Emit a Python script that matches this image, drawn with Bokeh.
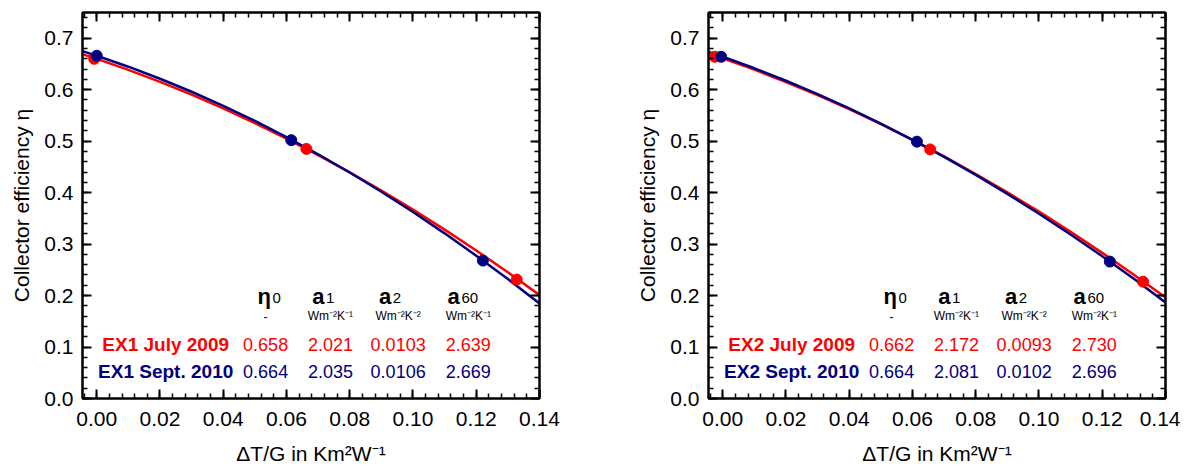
from bokeh.plotting import figure
from bokeh.models import Range1d, LinearAxis, SingleIntervalTicker, NumeralTickFormatter, CustomJSTickFormatter
from bokeh.layouts import row
from bokeh.core.properties import value
from bokeh.embed import file_html
from bokeh.resources import INLINE

FONT = "Liberation Sans"
RED = "#FF0000"
BLUE = "#000080"

# ---- data ----
curve_x = [-0.005, 0.0, 0.01, 0.02, 0.03, 0.04, 0.05, 0.06, 0.07, 0.08, 0.09, 0.10, 0.11, 0.12, 0.13, 0.14]

ex1_july_curve = [0.6701, 0.660, 0.6385, 0.6152, 0.5903, 0.5636, 0.5351, 0.5049, 0.4730, 0.4394, 0.4040, 0.3669, 0.3281, 0.2875, 0.2452, 0.2011]
ex1_sept_curve = [0.6759, 0.666, 0.6447, 0.6213, 0.5960, 0.5686, 0.5393, 0.5079, 0.4745, 0.4391, 0.4017, 0.3623, 0.3209, 0.2775, 0.2320, 0.1845]
ex2_july_curve = [0.6714, 0.661, 0.6389, 0.6150, 0.5895, 0.5622, 0.5332, 0.5026, 0.4703, 0.4362, 0.4005, 0.3630, 0.3239, 0.2830, 0.2405, 0.1962]
ex2_sept_curve = [0.6745, 0.664, 0.6416, 0.6174, 0.5914, 0.5636, 0.5340, 0.5026, 0.4694, 0.4344, 0.3976, 0.3590, 0.3186, 0.2765, 0.2326, 0.1867]

ex1_july_pts_x = [-0.0008, 0.0663, 0.1328]
ex1_july_pts_y = [0.660, 0.485, 0.231]
ex1_sept_pts_x = [0.0, 0.0615, 0.1221]
ex1_sept_pts_y = [0.666, 0.502, 0.268]
ex2_july_pts_x = [-0.0025, 0.0656, 0.1329]
ex2_july_pts_y = [0.664, 0.484, 0.227]
ex2_sept_pts_x = [-0.0005, 0.0614, 0.1224]
ex2_sept_pts_y = [0.664, 0.499, 0.266]

header_main = ["η", "a", "a", "a"]
header_sub = ["0", "1", "2", "60"]
header_units = ["-", "Wm⁻²K⁻¹", "Wm⁻²K⁻²", "Wm⁻²K⁻¹"]

ex1_names = ["EX1 July 2009", "EX1 Sept. 2010"]
ex1_july_vals = ["0.658", "2.021", "0.0103", "2.639"]
ex1_sept_vals = ["0.664", "2.035", "0.0106", "2.669"]
ex2_names = ["EX2 July 2009", "EX2 Sept. 2010"]
ex2_july_vals = ["0.662", "2.172", "0.0093", "2.730"]
ex2_sept_vals = ["0.664", "2.081", "0.0102", "2.696"]

# ---- layout constants (table placement in data units) ----
COL_X = [0.0534, 0.0739, 0.0953, 0.1175]
SPLIT_X = [0.0553, 0.0722, 0.0933, 0.1150]
NAME_X = 0.0218
Y_HEAD = 0.198
Y_UNIT = 0.160
Y_ROW = [0.104, 0.0515]

BLANK = CustomJSTickFormatter(code="return '';")


def style_axis(ax, show_labels):
    ax.axis_line_width = 2
    ax.major_tick_in = 9
    ax.major_tick_out = 0
    ax.minor_tick_in = 5
    ax.minor_tick_out = 0
    ax.major_tick_line_width = 2
    ax.minor_tick_line_width = 1.5
    ax.major_label_text_font = FONT
    ax.axis_label_text_font = FONT
    ax.axis_label_text_font_style = "normal"
    ax.axis_label_text_color = "black"
    ax.major_label_text_color = "black"
    ax.major_label_text_font_size = "21px"
    ax.axis_label_text_font_size = "21px"
    if not show_labels:
        ax.formatter = BLANK
        ax.major_label_standoff = 0


def make_panel(curve_red, curve_blue, rx, ry, bx, by, names, vals_red, vals_blue,
               border_left, border_right):
    p = figure(frame_width=457, frame_height=386,
               x_range=Range1d(-0.0045, 0.14), y_range=Range1d(0.0, 0.75),
               output_backend="svg", toolbar_location=None,
               min_border_left=border_left, min_border_right=border_right,
               min_border_top=12, min_border_bottom=64,
               x_axis_label="ΔT/G in Km²W⁻¹", y_axis_label="Collector efficiency η")
    p.xgrid.visible = False
    p.ygrid.visible = False
    p.outline_line_color = "black"
    p.outline_line_width = 2
    p.background_fill_color = "white"
    p.border_fill_color = "white"

    p.xaxis.ticker = SingleIntervalTicker(interval=0.02, num_minor_ticks=5)
    p.yaxis.ticker = SingleIntervalTicker(interval=0.1, num_minor_ticks=5)
    p.xaxis.formatter = NumeralTickFormatter(format="0.00")
    p.yaxis.formatter = NumeralTickFormatter(format="0.0")
    for ax in p.xaxis + p.yaxis:
        style_axis(ax, True)
    p.xaxis.major_label_standoff = 13
    p.yaxis.major_label_standoff = 9
    p.xaxis.axis_label_standoff = 13
    p.yaxis.axis_label_standoff = 8

    top = LinearAxis(ticker=SingleIntervalTicker(interval=0.02, num_minor_ticks=5))
    right = LinearAxis(ticker=SingleIntervalTicker(interval=0.1, num_minor_ticks=5))
    style_axis(top, False)
    style_axis(right, False)
    p.add_layout(top, "above")
    p.add_layout(right, "right")

    p.line(curve_x, curve_red, line_color=RED, line_width=2.5)
    p.line(curve_x, curve_blue, line_color=BLUE, line_width=2.5)
    p.scatter(rx, ry, size=11, color=RED)
    p.scatter(bx, by, size=11, color=BLUE)

    f = value(FONT)
    # headers
    p.text(x=[s - 0.0002 for s in SPLIT_X], y=[Y_HEAD] * 4, text=header_main,
           text_font=f, text_font_size="22px", text_font_style="bold",
           text_align="right", text_baseline="alphabetic", text_color="black")
    p.text(x=[s + 0.0003 for s in SPLIT_X], y=[Y_HEAD - 0.003] * 4, text=header_sub,
           text_font=f, text_font_size="15px", text_font_style="normal",
           text_align="left", text_baseline="alphabetic", text_color="black")
    p.text(x=COL_X, y=[Y_UNIT] * 4, text=header_units,
           text_font=f, text_font_size="12px",
           text_align="center", text_baseline="alphabetic", text_color="black")
    # rows
    p.text(x=[NAME_X, NAME_X], y=Y_ROW, text=names, text_font=f, text_font_size="19px",
           text_font_style="bold", text_align="center", text_baseline="alphabetic",
           text_color=[RED, BLUE])
    p.text(x=COL_X, y=[Y_ROW[0]] * 4, text=vals_red, text_font=f, text_font_size="18px",
           text_align="center", text_baseline="alphabetic", text_color=RED)
    p.text(x=COL_X, y=[Y_ROW[1]] * 4, text=vals_blue, text_font=f, text_font_size="18px",
           text_align="center", text_baseline="alphabetic", text_color=BLUE)
    return p


p1 = make_panel(ex1_july_curve, ex1_sept_curve, ex1_july_pts_x, ex1_july_pts_y,
                ex1_sept_pts_x, ex1_sept_pts_y, ex1_names, ex1_july_vals, ex1_sept_vals,
                82, 59)
p2 = make_panel(ex2_july_curve, ex2_sept_curve, ex2_july_pts_x, ex2_july_pts_y,
                ex2_sept_pts_x, ex2_sept_pts_y, ex2_names, ex2_july_vals, ex2_sept_vals,
                110, 15)

layout = row(p1, p2)
open("out.html", "w").write(file_html(layout, INLINE))
